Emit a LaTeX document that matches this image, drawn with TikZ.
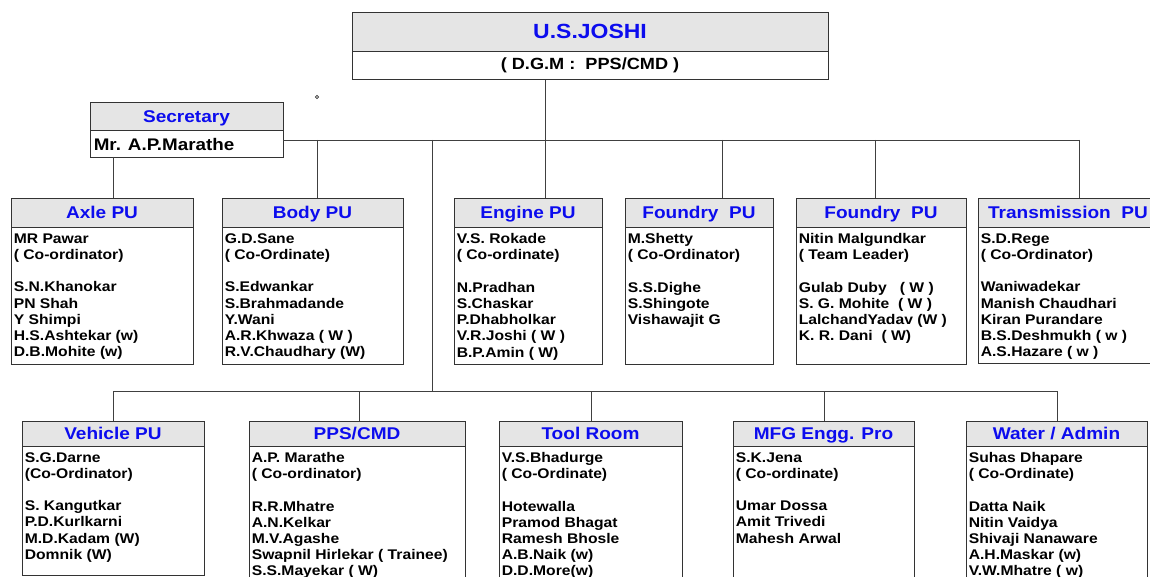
\documentclass[tikz,border=0pt]{standalone}
\usepackage{fontspec}
\setmainfont{Liberation Sans}[FakeStretch=1.12]
\usepackage {tikz}
\usetikzlibrary {positioning}

\definecolor{headgray}{RGB}{229,229,229}
\definecolor{headblue}{RGB}{12,12,238}

\tikzset{
	unithead/.style={draw=black!80, fill=headgray, line width=0.8pt, inner sep=0pt, text=headblue,
		text height=12.2pt, text depth=0pt, font=\fontsize{17}{20}\selectfont\bfseries},
	unitbody/.style={draw=black!80, line width=0.8pt, inner sep=0pt},
	unitlist/.style={inner sep=0pt, align=left, font=\fontsize{14}{16.2}\selectfont\bfseries},
	link/.style={draw=black!75, line width=0.7pt}
}

% #1 name, #2-#3 left/right, #4 top, #5 foot of title, #6 bottom, #7 title, #8 members
\newcommand{\orgunit}[8]{%
	\node[unithead, minimum width={#3-#2}, minimum height={#5-#4}] (#1) at ({(#2+#3)/2},{(#4+#5)/2}) {#7};
	\node[unitbody, minimum width={#3-#2}, minimum height={#6-#5}, anchor=north] (#1b) at (#1.south) {};
	\node[unitlist, anchor=north west] (#1t) at ([shift={(3,6)}]#1b.north west) {#8};
}

\begin{document}
\begin{tikzpicture}[x=1pt,y=-1pt]
	\useasboundingbox (0,0) rectangle (1150,577);
	\clip (0,0) rectangle (1150,577);

	% head of the department
	\node[unithead, minimum width=476, minimum height=39, text height=14.7pt, font=\fontsize{20.5}{24}\selectfont\bfseries] (dgm) at (590,31.5) {U.S.JOSHI};
	\node[unitbody, minimum width=476, minimum height=28, anchor=north, font=\fontsize{16.2}{19}\selectfont\bfseries] (dgmb) at (dgm.south) {( D.G.M :\ \ PPS/CMD )};

	\node[unithead, minimum width=193, minimum height=28] (sec) at (186.5,116) {Secretary};
	\node[unitbody, minimum width=193, minimum height=27, anchor=north] (secb) at (sec.south) {};
	\node[inner sep=0pt, anchor=west, font=\fontsize{16.8}{20}\selectfont\bfseries] (secname) at ([xshift=4]secb.west) {Mr. A.P.Marathe};
	\draw[line width=0.6pt, black!80] (317,97) circle (1.6);

	% first row
	\orgunit{axle}{11}{193}{198}{227}{364}{Axle PU}{MR Pawar\\( Co-ordinator)\\[16.2pt]S.N.Khanokar\\PN Shah\\Y Shimpi\\H.S.Ashtekar (w)\\D.B.Mohite (w)}
	\orgunit{body}{222}{403}{198}{227}{364}{Body PU}{G.D.Sane\\( Co-Ordinate)\\[16.2pt]S.Edwankar\\S.Brahmadande\\Y.Wani\\A.R.Khwaza ( W )\\R.V.Chaudhary (W)}
	\orgunit{engine}{454}{602}{198}{227}{364}{Engine PU}{V.S. Rokade\\( Co-ordinate)\\[16.2pt]N.Pradhan\\S.Chaskar\\P.Dhabholkar\\V.R.Joshi ( W )\\B.P.Amin ( W)}
	\orgunit{foundA}{625}{773}{198}{227}{364}{Foundry\ \ PU}{M.Shetty\\( Co-Ordinator)\\[16.2pt]S.S.Dighe\\S.Shingote\\Vishawajit G}
	\orgunit{foundB}{796}{966}{198}{227}{364}{Foundry\ \ PU}{Nitin Malgundkar\\( Team Leader)\\[16.2pt]Gulab Duby\ \ \ ( W )\\S. G. Mohite\ \ ( W )\\LalchandYadav (W )\\K. R. Dani\ \ ( W)}
	\orgunit{trans}{978}{1158}{198}{227}{363}{Transmission\ \ PU}{S.D.Rege\\( Co-Ordinator)\\[16.2pt]Waniwadekar\\Manish Chaudhari\\Kiran Purandare\\B.S.Deshmukh ( w )\\A.S.Hazare ( w )}

	% second row
	\orgunit{vehicle}{22}{204}{421}{446}{575}{Vehicle PU}{S.G.Darne\\(Co-Ordinator)\\[16pt]S. Kangutkar\\P.D.Kurlkarni\\M.D.Kadam (W)\\Domnik (W)}
	\orgunit{pps}{249}{465}{421}{446}{592}{PPS/CMD}{A.P. Marathe\\( Co-ordinator)\\[16pt]R.R.Mhatre\\A.N.Kelkar\\M.V.Agashe\\Swapnil Hirlekar ( Trainee)\\S.S.Mayekar ( W)}
	\orgunit{tool}{499}{682}{421}{446}{592}{Tool Room}{V.S.Bhadurge\\( Co-Ordinate)\\[16pt]Hotewalla\\Pramod Bhagat\\Ramesh Bhosle\\A.B.Naik (w)\\D.D.More(w)}
	\orgunit{mfg}{733}{914}{421}{446}{592}{MFG Engg. Pro}{S.K.Jena\\( Co-ordinate)\\[16pt]Umar Dossa\\Amit Trivedi\\Mahesh Arwal}
	\orgunit{water}{966}{1147}{421}{446}{592}{Water / Admin}{Suhas Dhapare\\( Co-Ordinate)\\[16pt]Datta Naik\\Nitin Vaidya\\Shivaji Nanaware\\A.H.Maskar (w)\\V.W.Mhatre ( w)}

	% connectors
	\coordinate (busT) at (545,140);
	\coordinate (busB) at (432,391);
	\coordinate (daxle) at (113,157);
	\draw[link] (dgmb.south -| busT) -- (engine.north -| busT);
	\draw[link] (secb.east |- busT) -- (1079,140) coordinate (dtrans);
	\foreach \n/\x in {body/317,foundA/722,foundB/875,trans/1079}{
		\coordinate (d\n) at (\x,140);
		\draw[link] (d\n) -- (d\n |- \n.north);
	}
	\draw[link] (daxle) -- (daxle |- axle.north);
	\draw[link] (busB |- busT) -- (busB);
	\foreach \n/\x in {vehicle/113,pps/359,tool/591,mfg/824,water/1057}{
		\coordinate (d\n) at (\x,391);
		\draw[link] (d\n) -- (d\n |- \n.north);
	}
	\draw[link] (dvehicle) -- (dwater);
\end{tikzpicture}
\end{document}
